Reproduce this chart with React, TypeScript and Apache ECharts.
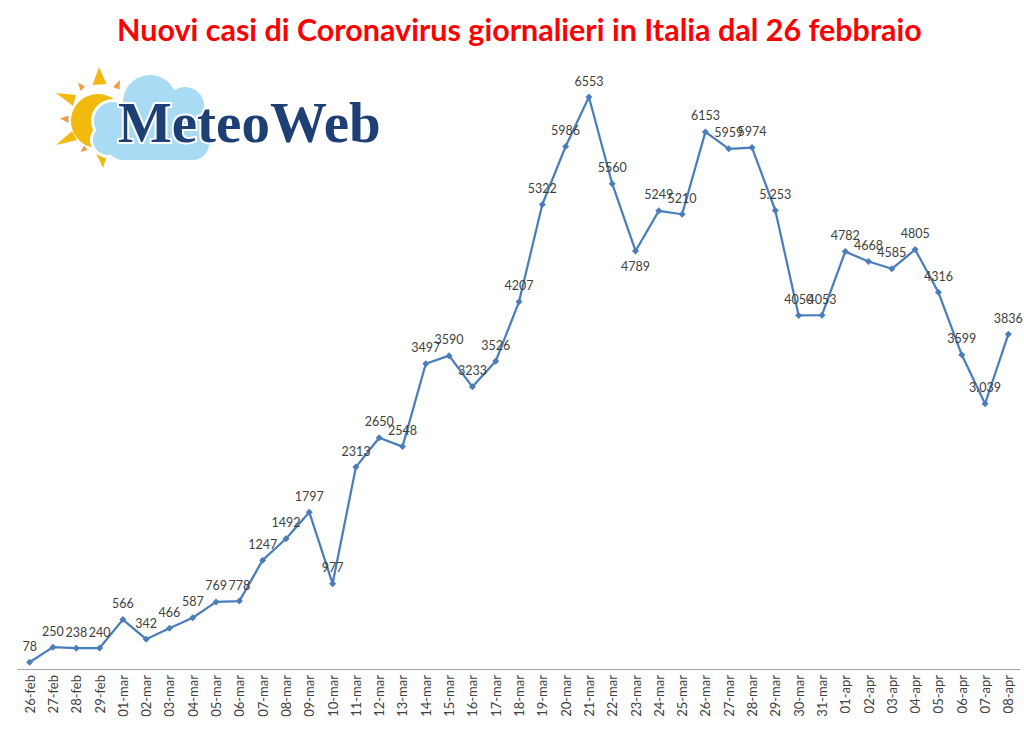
import React, { useEffect, useRef } from "react";
import * as echarts from "echarts";

const categories = [
  "26-feb", "27-feb", "28-feb", "29-feb",
  "01-mar", "02-mar", "03-mar", "04-mar", "05-mar", "06-mar", "07-mar", "08-mar", "09-mar", "10-mar",
  "11-mar", "12-mar", "13-mar", "14-mar", "15-mar", "16-mar", "17-mar", "18-mar", "19-mar", "20-mar",
  "21-mar", "22-mar", "23-mar", "24-mar", "25-mar", "26-mar", "27-mar", "28-mar", "29-mar", "30-mar", "31-mar",
  "01-apr", "02-apr", "03-apr", "04-apr", "05-apr", "06-apr", "07-apr", "08-apr",
];

const newCases = [
  78, 250, 238, 240,
  566, 342, 466, 587, 769, 778, 1247, 1492, 1797, 977,
  2313, 2650, 2548, 3497, 3590, 3233, 3526, 4207, 5322, 5986,
  6553, 5560, 4789, 5249, 5210, 6153, 5959, 5974, 5253, 4050, 4053,
  4782, 4668, 4585, 4805, 4316, 3599, 3039, 3836,
];

const labelTexts = [
  "78", "250", "238", "240",
  "566", "342", "466", "587", "769", "778", "1247", "1492", "1797", "977",
  "2313", "2650", "2548", "3497", "3590", "3233", "3526", "4207", "5322", "5986",
  "6553", "5560", "4789", "5249", "5210", "6153", "5959", "5974", "5.253", "4050", "4053",
  "4782", "4668", "4585", "4805", "4316", "3599", "3.039", "3836",
];

const labelsBelow = ["23-mar"];

const titleText = "Nuovi casi di Coronavirus giornalieri in Italia dal 26 febbraio";
const logoText = "MeteoWeb";

const yMin = 0;
const yMax = 7000;

function buildLogo() {
  const yellow = "#f2b90f";
  const orange = "#f39a4a";
  const cloud = "#a9dcf4";
  const rays: number[][][] = [
    [[99, 67], [92.5, 85], [106.5, 84]],
    [[56, 93], [76, 95], [73, 106]],
    [[56, 145], [72, 131], [77, 140]],
    [[103, 168], [95, 151], [108, 153]],
  ];
  const smallRays: number[][][] = [
    [[113, 87], [120, 80], [119.5, 89.5]],
    [[78, 82.5], [85, 86.5], [80.5, 91]],
    [[60, 118.5], [68.5, 115.5], [68.5, 123]],
    [[80.5, 152], [84, 145.5], [87.5, 150]],
  ];
  const puffs = [
    { cx: 150, cy: 102, r: 27 },
    { cx: 113, cy: 121, r: 19 },
    { cx: 108, cy: 140, r: 15 },
    { cx: 185, cy: 106, r: 19 },
    { cx: 198, cy: 138, r: 14 },
  ];
  const els: any[] = [];
  rays.forEach((p) => els.push({ type: "polygon", shape: { points: p }, style: { fill: yellow } }));
  smallRays.forEach((p) => els.push({ type: "polygon", shape: { points: p }, style: { fill: orange } }));
  els.push({ type: "circle", shape: { cx: 98, cy: 121, r: 27 }, style: { fill: yellow } });
  puffs.forEach((c) => els.push({ type: "circle", shape: { cx: c.cx, cy: c.cy, r: c.r + 3 }, style: { fill: "#ffffff" } }));
  els.push({ type: "rect", shape: { x: 104, y: 116, width: 108, height: 47, r: 18 }, style: { fill: "#ffffff" } });
  puffs.forEach((c) => els.push({ type: "circle", shape: c, style: { fill: cloud } }));
  els.push({ type: "rect", shape: { x: 107, y: 119, width: 102, height: 41, r: 16 }, style: { fill: cloud } });
  els.push({
    type: "text",
    left: 116,
    top: 92,
    style: {
      text: logoText,
      fill: "#1e3f74",
      stroke: "#ffffff",
      lineWidth: 4,
      font: "bold 57px 'Liberation Serif', serif",
    },
  });
  return els;
}

export default function App() {
  const ref = useRef<HTMLDivElement>(null);
  useEffect(() => {
    if (!ref.current) return;
    const chart = echarts.init(ref.current, undefined, { renderer: "svg" });
    chart.setOption({
      animation: false,
      backgroundColor: "#ffffff",
      title: {
        text: titleText,
        left: 112,
        top: 8,
        textStyle: {
          color: "#ff0000",
          fontFamily: "Lato",
          fontWeight: "bold",
          fontSize: 30.5,
        },
      },
      graphic: buildLogo(),
      grid: { left: 18, right: 4, top: 58, bottom: 61, containLabel: false },
      xAxis: {
        type: "category",
        data: categories,
        boundaryGap: true,
        axisLine: { lineStyle: { color: "#a6a6a6", width: 1 } },
        axisTick: { show: false },
        axisLabel: {
          rotate: 90,
          interval: 0,
          color: "#404040",
          fontFamily: "Lato",
          fontSize: 13,
          margin: 6,
        },
      },
      yAxis: {
        type: "value",
        min: yMin,
        max: yMax,
        show: false,
        splitLine: { show: false },
      },
      series: [
        {
          type: "line",
          data: newCases.map((v, i) => ({
            value: v,
            label: labelsBelow.includes(categories[i]) ? { position: "bottom" } : undefined,
          })),
          symbol: "diamond",
          symbolSize: 7,
          lineStyle: { color: "#4a7ebb", width: 2.25 },
          itemStyle: { color: "#4a7ebb" },
          label: {
            show: true,
            position: "top",
            distance: 6,
            color: "#404040",
            fontFamily: "Lato",
            fontSize: 12.5,
            formatter: (p: any) => labelTexts[p.dataIndex],
          },
        },
      ],
    });
    return () => chart.dispose();
  }, []);
  return (
    <div
      ref={ref}
      style={{ position: "fixed", left: 0, top: 0, width: 1024, height: 730, background: "#fff" }}
    />
  );
}
